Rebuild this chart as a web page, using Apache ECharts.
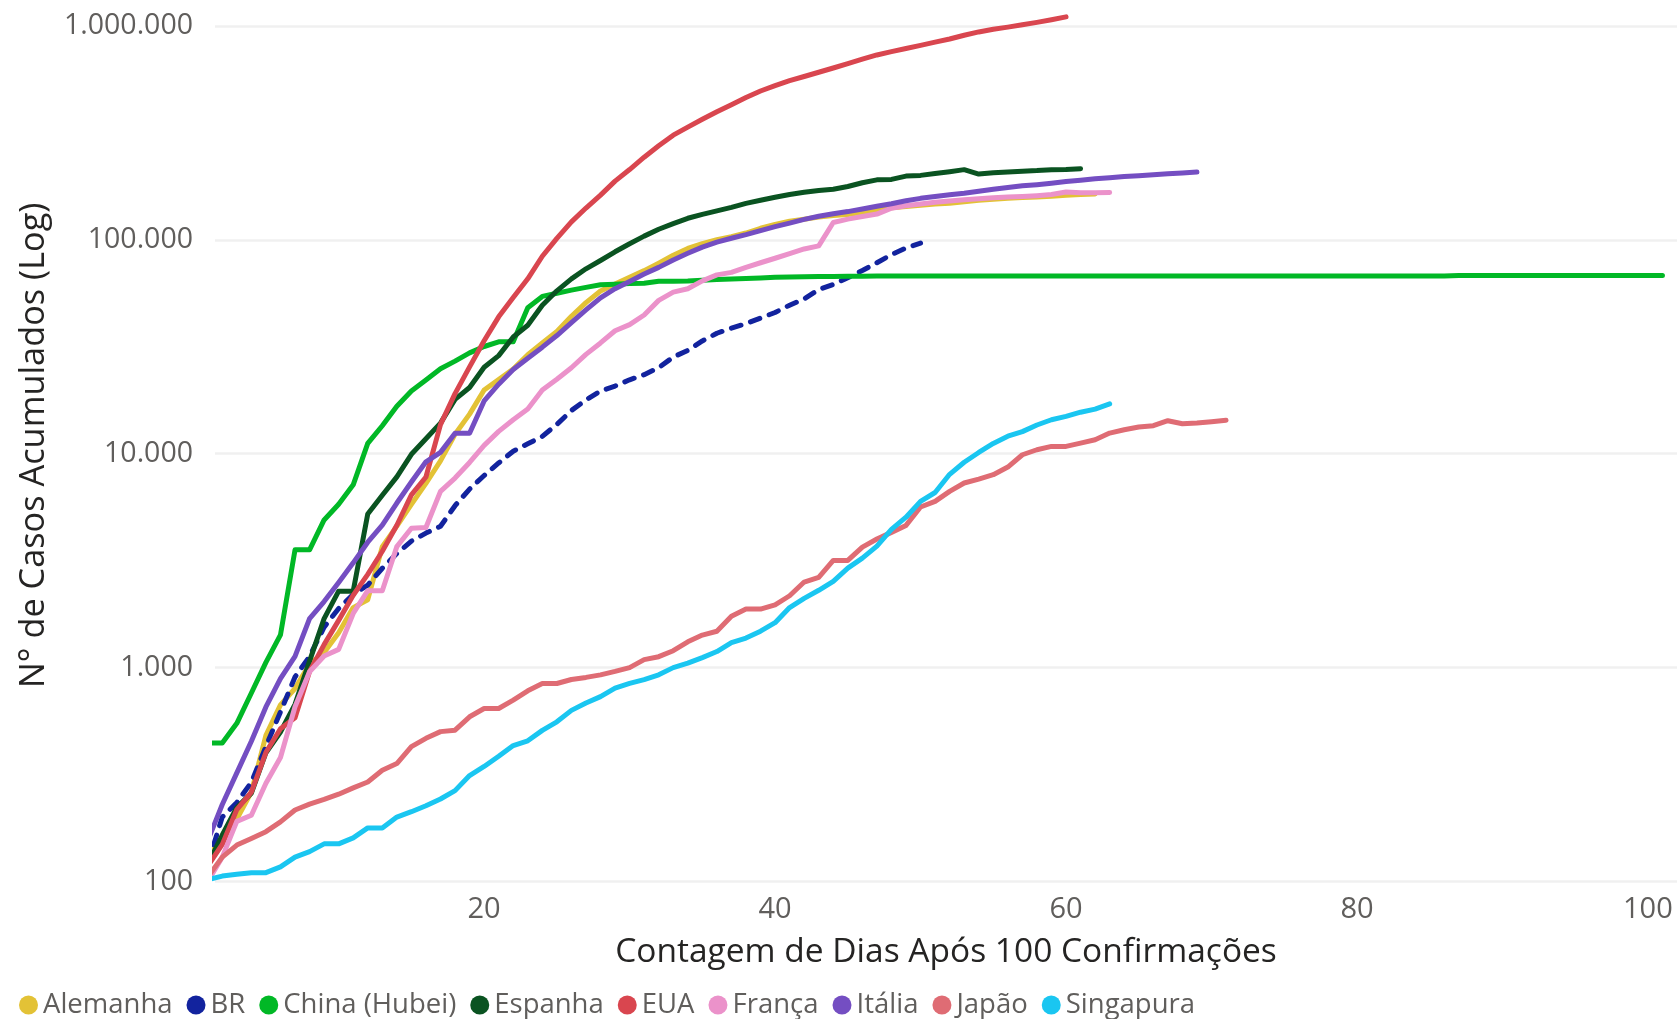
<!DOCTYPE html>
<html><head><meta charset="utf-8">
<script src="https://cdn.jsdelivr.net/npm/echarts@6/dist/echarts.min.js"></script>
<style>html,body{margin:0;padding:0;background:#fff}#c{width:1677px;height:1019px}</style>
</head><body><div id="c"></div>
<script>
// ---- data (day 1 = first day with >=100 confirmed cases) ----
const seriesNames = ['Alemanha','BR','China (Hubei)','Espanha','EUA','França','Itália','Japão','Singapura'];
const seriesColors = ['#E3C236','#12239E','#01B826','#0A5321','#D9464F','#EB92CA','#744EC2','#DF6C74','#1AC6F1'];
const xTickValues = [20,40,60,80,100];
const yTickValues = [100,1000,10000,100000,1000000];

const alemanha = [130,159,196,262,482,670,799,1040,1176,1457,1908,2078,3675,4585,5795,7272,9257,12327,15320,19848,22213,24873,29056,32986,37323,43938,50871,57695,62095,66885,71808,77872,84794,91159,96092,100123,103374,107663,113296,118181,122171,124908,127854,130072,131359,134753,137698,141397,143342,145184,147065,148291,150648,153129,154999,156513,157770,158758,159912,161539,163009,164077];
const br = [121,200,234,291,428,621,904,1128,1546,1891,2201,2433,2915,3417,3904,4256,4579,5717,6836,7910,9056,10278,11130,12056,13717,15927,17857,19638,20727,22169,23430,25262,28320,30425,33682,36599,38654,40581,43079,45757,49492,52995,58509,61888,66501,71886,78162,85380,91589,96559];
const chinaHubei = [444,444,549,761,1058,1423,3554,3554,4903,5806,7153,11177,13522,16678,19665,22112,24953,27100,29631,31728,33366,33366,48206,54406,56249,58182,59989,61682,62031,62442,62662,64084,64084,64287,64786,65187,65596,65914,66337,66907,67103,67217,67332,67466,67592,67666,67707,67743,67760,67773,67781,67786,67790,67794,67798,67799,67800,
  67800,67800,67800,67800,67800,67801,67801,67801,67801,67801,67801,67801,67801,67801,67802,67802,67802,67802,67802,67802,67802,67802,67803,67803,67803,67803,67803,67803,67803,
  68128,68128,68128,68128,68128,68128,68128,68128,68128,68128,68128,68128,68128,68128,68128];
const espanha = [120,165,222,259,400,500,673,1073,1695,2277,2277,5232,6391,7798,9942,11748,13910,17963,20410,25374,28768,35136,39885,49515,57786,65719,73235,80110,87956,95923,104118,112065,119199,126168,131646,136675,141942,148220,153222,158273,163027,166831,170099,172541,177644,184948,190839,191726,198674,200210,204178,208389,213024,202990,205905,207634,209465,210773,212917,213435,215216];
const eua = [118,149,217,262,402,518,583,959,1281,1663,2179,2727,3499,4632,6421,7786,13680,19101,25493,33746,43667,53740,65778,83836,101657,121465,140909,161831,188172,213242,243622,275367,308650,336802,366317,397121,428654,462780,496535,526396,555313,580619,607670,636350,667592,699706,732197,758809,784326,811865,840351,869170,905358,938154,965785,988197,1012582,1039909,1069424,1103461];
const franca = [100,130,191,204,288,380,656,957,1134,1217,1792,2290,2290,3678,4487,4523,6668,7699,9105,10947,12726,14431,16176,19856,22304,25233,29155,32964,37575,40174,44550,52128,56989,59105,64338,68605,70478,74390,78167,82048,86334,90676,93790,120633,125000,128500,132000,140700,144300,147300,150000,152000,154000,155500,157300,158500,159500,161000,163000,167500,166000,166000,166500];
const italia = [155,229,322,453,655,888,1128,1694,2036,2502,3089,3858,4636,5883,7375,9172,10149,12462,12462,17660,21157,24747,27980,31506,35713,41035,47021,53578,59138,63927,69176,74386,80589,86498,92472,97689,101739,105792,110574,115242,119827,124632,128948,132547,135586,139422,143626,147577,152271,156363,159516,162488,165155,168941,172434,175925,178972,181228,183957,187327,189973,192994,195351,197675,199414,201505,203591,205463,207428];
const japao = [105,130,148,159,171,190,216,230,242,256,274,292,331,356,427,467,502,510,589,644,644,705,779,843,843,880,900,925,960,1000,1090,1125,1200,1320,1420,1480,1738,1878,1878,1967,2168,2513,2642,3171,3171,3661,3993,4290,4624,5634,5991,6671,7298,7616,7980,8666,9892,10440,10820,10820,11215,11620,12490,12940,13330,13530,14270,13810,13910,14110,14330];
const singapura = [102,106,108,110,110,117,130,138,150,150,160,178,178,200,212,226,243,266,313,345,385,432,455,509,558,631,683,732,802,844,879,926,1000,1049,1114,1189,1309,1375,1481,1623,1910,2108,2299,2532,2918,3252,3699,4427,5050,5992,6588,8014,9125,10141,11178,12075,12693,13624,14423,14951,15641,16169,17101];

const seriesData = [alemanha, br, chinaHubei, espanha, eua, franca, italia, japao, singapura];

function fmtThousands(v){
  const r = Math.round(v);
  if (yTickValues.indexOf(r) < 0) return '';
  return String(r).replace(/\B(?=(\d{3})+(?!\d))/g, '.');
}

const FONT = 'Open Sans';
const Y_MAX = 1200000;            // room above the top gridline for the EUA line
const DECADE = 213.9;             // px per decade
const gridTop = 26 - DECADE * Math.log10(Y_MAX / 1000000);

const chart = echarts.init(document.getElementById('c'), null, {renderer:'canvas'});
chart.setOption({
  animation: false,
  backgroundColor: '#ffffff',
  grid: { left: 215, right: 0, top: gridTop, bottom: 137.5, containLabel: false },
  xAxis: {
    type: 'value', min: 1.5, max: 102,
    axisLine: { show: false }, axisTick: { show: false },
    splitLine: { show: false },
    axisLabel: { customValues: xTickValues, fontSize: 29, color: '#605E5C', fontFamily: FONT, margin: 14 },
    name: 'Contagem de Dias Após 100 Confirmações', nameLocation: 'middle', nameGap: 54,
    nameTextStyle: { fontSize: 33.5, color: '#252423', fontFamily: FONT }
  },
  yAxis: {
    type: 'log', logBase: 10, min: 100, max: Y_MAX,
    axisLine: { show: false }, axisTick: { show: false },
    splitLine: { show: true, showMaxLine: false, lineStyle: { color: '#F0F0F0', width: 2.5 } },
    axisLabel: { fontSize: 28.5, color: '#605E5C', fontFamily: FONT, margin: 22, formatter: fmtThousands, showMaxLabel: false },
    name: 'N° de Casos Acumulados (Log)', nameLocation: 'middle', nameGap: 164,
    nameTextStyle: { fontSize: 34.3, color: '#252423', fontFamily: FONT }
  },
  legend: {
    data: seriesNames, icon: 'circle', itemWidth: 19, itemHeight: 19, itemGap: 14,
    left: 19, top: 991, padding: 0,
    itemStyle: { borderWidth: 0 },
    textStyle: { fontSize: 27.5, color: '#605E5C', fontFamily: FONT, padding: [0,0,0,0] }
  },
  series: seriesNames.map((name, i) => ({
    name, type: 'line', symbol: 'none', showSymbol: false, z: 2 + i,
    data: seriesData[i].map((v, d) => [d + 1, v]),
    itemStyle: { color: seriesColors[i] },
    lineStyle: { color: seriesColors[i], width: 5, cap: 'round', join: 'round', type: name === 'BR' ? [10, 10] : 'solid' }
  }))
});
</script>
</body></html>
